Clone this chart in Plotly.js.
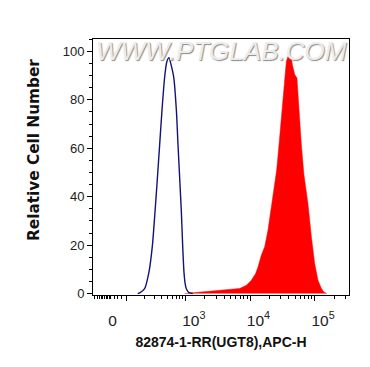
<!DOCTYPE html>
<html>
<head>
<meta charset="utf-8">
<script src="https://cdn.plot.ly/plotly-3.0.1.min.js"></script>
<style>
html,body{margin:0;padding:0;background:#fff;}
#chart{width:370px;height:367px;}
</style>
</head>
<body>
<div id="chart"></div>
<script>
// Display coordinate: decade k of the biexponential axis sits at k (10^3 -> 3, 10^4 -> 4 ...)
const controlX = [2.262, 2.293, 2.370, 2.437, 2.490, 2.530, 2.567, 2.602, 2.638, 2.680, 2.711, 2.746, 2.783, 2.819, 2.861, 2.886, 2.912, 2.938, 2.958, 2.978, 2.997, 3.015, 3.051, 3.113];
const controlY = [0, 0.3, 2, 8.9, 19.9, 33.7, 47.6, 61.4, 75.6, 89.5, 95.5, 97.4, 94, 89.5, 75.6, 61.4, 47.6, 33.7, 19.9, 8.9, 4, 2, 0.5, 0];

const stainedX = [2.989, 3.067, 3.144, 3.299, 3.453, 3.561, 3.685, 3.763, 3.840, 3.944, 4.021, 4.087, 4.123, 4.176, 4.227, 4.278, 4.330, 4.381, 4.412, 4.448, 4.494, 4.536, 4.562, 4.587, 4.613, 4.640, 4.655, 4.691, 4.726, 4.742, 4.757, 4.794, 4.834, 4.845, 4.896, 4.949, 5.000, 5.051, 5.104, 5.139, 5.186];
const stainedY = [0, 0.2, 0.3, 0.7, 1.1, 1.5, 1.6, 1.8, 2.1, 3.4, 5.5, 8.3, 11, 15.9, 19.3, 26.2, 35.8, 45.5, 51, 61.4, 75.2, 89, 95.9, 97.9, 97.5, 97.2, 94.5, 90.4, 89, 82, 75.2, 61.4, 49, 47, 37.2, 23.4, 12.4, 5.5, 2.1, 0.7, 0];

const xTickText = ['0', '10<sup>3</sup>', '10<sup>4</sup>', '10<sup>5</sup>'];
const yTickVals = [0, 20, 40, 60, 80, 100];
const xTitle = '82874-1-RR(UGT8),APC-H';
const yTitle = 'Relative Cell Number';
const watermark = 'WWW.PTGLAB.COM';

// axis geometry (biexponential display scale)
const xRange = [1.571, 5.531];
const zeroPos = 1.872;
const decade2 = 2.087;           // 10^2 sits in the compressed part
const majorTicks = [decade2, 3, 4, 5];
const minorTicks = [];
[1.597,1.639,1.670,1.701,1.725,1.752,1.775,1.798,1.821,1.845,1.896,1.957,2.019].forEach(v => minorTicks.push(v));
for (let m = 2; m <= 9; m++) minorTicks.push(decade2 + (3 - decade2) * Math.log10(m));
for (let k = 3; k <= 4; k++) for (let m = 2; m <= 9; m++) minorTicks.push(k + Math.log10(m));
[2, 3].forEach(m => minorTicks.push(5 + Math.log10(m)));
const labelPos = [zeroPos, 3.13, 4.13, 5.13];

const traces = [
  {x: stainedX, y: stainedY, type: 'scatter', mode: 'lines', fill: 'tozeroy',
   fillcolor: '#ff0000', line: {color: '#ff0000', width: 0.5}, hoverinfo: 'skip', showlegend: false},
  {x: controlX, y: controlY, type: 'scatter', mode: 'lines',
   line: {color: '#12127a', width: 1.4, shape: 'spline', smoothing: 0.6}, hoverinfo: 'skip', showlegend: false},
  {x: [], y: [], xaxis: 'x2', yaxis: 'y', type: 'scatter', mode: 'lines', hoverinfo: 'skip', showlegend: false}
];

const layout = {
  width: 370, height: 367,
  margin: {l: 93, r: 21, t: 39, b: 72, pad: 0},
  paper_bgcolor: '#fff', plot_bgcolor: '#fff',
  showlegend: false,
  xaxis: {
    range: xRange, showgrid: false, zeroline: false,
    showline: true, linecolor: '#000', linewidth: 1, mirror: true,
    ticks: 'outside', ticklen: 5, tickwidth: 1, tickcolor: '#000',
    tickmode: 'array', tickvals: majorTicks, showticklabels: false,
    minor: {tickmode: 'array', tickvals: minorTicks, ticks: 'outside', ticklen: 3, tickwidth: 1, tickcolor: '#000', showgrid: false}
  },
  xaxis2: {
    overlaying: 'x', anchor: 'y', side: 'bottom', range: xRange,
    showgrid: false, zeroline: false, showline: false, ticks: '',
    tickmode: 'array', tickvals: labelPos, ticktext: xTickText,
    ticklabelstandoff: 14,
    tickfont: {family: 'Liberation Sans Narrow, Arial Narrow, Liberation Sans, Arial', size: 15.5, color: '#222'},
    title: {text: xTitle, font: {family: 'Liberation Sans, Arial', size: 14, weight: 700, color: '#111'}, standoff: 9}
  },
  yaxis: {
    range: [-0.6, 105.1], showgrid: false, zeroline: false,
    showline: true, linecolor: '#000', linewidth: 1, mirror: true,
    ticks: 'outside', ticklen: 5, tickwidth: 1, tickcolor: '#000',
    tickmode: 'array', tickvals: yTickVals,
    tickfont: {family: 'Liberation Sans, Arial', size: 13, color: '#222'},
    minor: {dtick: 5, tick0: 0, ticks: 'outside', ticklen: 3, tickwidth: 1, tickcolor: '#000', showgrid: false}
  },
  annotations: [{
    text: watermark, xref: 'paper', yref: 'paper', x: 0.5, y: 0.953,
    xanchor: 'center', yanchor: 'middle', showarrow: false,
    font: {family: 'Liberation Sans, Arial', size: 26, style: 'italic', color: '#ececec', shadow: '1px 1px 1px #8a8a8a'}
  }, {
    text: yTitle, xref: 'paper', yref: 'paper', x: -0.228, y: 0.565,
    xanchor: 'center', yanchor: 'middle', showarrow: false, textangle: -90,
    font: {family: 'DejaVu Sans, Liberation Sans, Arial', size: 15.3, weight: 700, color: '#111'}
  }]
};

Plotly.newPlot('chart', traces, layout, {staticPlot: true, displayModeBar: false});
</script>
</body>
</html>
